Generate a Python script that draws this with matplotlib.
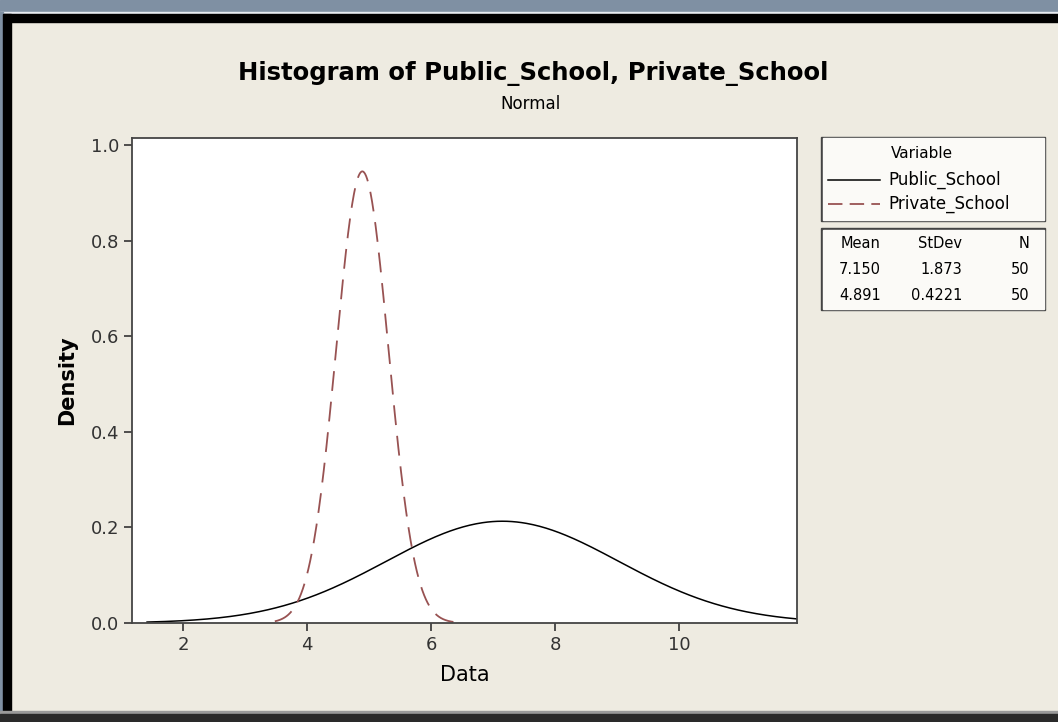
import numpy as np
import matplotlib.pyplot as plt
from matplotlib.patches import Rectangle

# normal fits shown in the chart
variables = ["Public_School", "Private_School"]
means = [7.150, 4.891]
stdevs = [1.873, 0.4221]
counts = [50, 50]
# x range over which each fitted curve is drawn
x_from = [1.42, 3.48]
x_to = [11.9, 6.39]

xticks = [2, 4, 6, 8, 10]
yticks = [0.0, 0.2, 0.4, 0.6, 0.8, 1.0]

bg = "#EEEBE1"

fig = plt.figure(figsize=(10.58, 7.22), dpi=100)
fig.patch.set_facecolor(bg)

# window frame around the graph
W, H = 1058, 722
def px_rect(x, y, w, h, color):
    fig.patches.append(Rectangle((x / W, 1 - (y + h) / H), w / W, h / H,
                                 transform=fig.transFigure, color=color, zorder=0))

px_rect(0, 0, W, 12, "#7F90A3")
px_rect(0, 12, W, 2, "#E8ECF2")
px_rect(3, 14, W, 8, "#000000")
px_rect(0, 12, 3, H, "#7F90A3")
px_rect(3, 14, 8, H, "#000000")
px_rect(0, 711, W, 2, "#9A9A9A")
px_rect(0, 714, W, 8, "#2A2A2A")

ax = fig.add_axes([132 / W, 1 - 623 / H, (797 - 132) / W, (623 - 138) / H])
ax.set_facecolor("white")

styles = [dict(color="black", lw=1.1, ls="-"),
          dict(color="#985252", lw=1.3, ls=(0, (11, 6)))]

for m, s, a, b, st in zip(means, stdevs, x_from, x_to, styles):
    x = np.linspace(a, b, 400)
    y = np.exp(-0.5 * ((x - m) / s) ** 2) / (s * np.sqrt(2 * np.pi))
    ax.plot(x, y, **st)

ax.set_xlim(1.177, 11.9)
ax.set_ylim(0, 1.015)
ax.set_xticks(xticks)
ax.set_yticks(yticks)
ax.set_yticklabels([f"{v:.1f}" for v in yticks])
ax.tick_params(direction="out", length=6, width=1.2, labelsize=13,
               colors="#333333", labelcolor="#333333", pad=3)
for sp in ax.spines.values():
    sp.set_color("#444444")
    sp.set_linewidth(1.3)

ax.set_xlabel("Data", fontsize=15, labelpad=8)
ax.set_ylabel("Density", fontsize=15, fontweight="bold", labelpad=10)

fig.text(533 / W, 1 - 73 / H, "Histogram of Public_School, Private_School",
         ha="center", va="center", fontsize=17.5, fontweight="bold")
fig.text(530 / W, 1 - 104 / H, "Normal", ha="center", va="center", fontsize=12)

# legend box: variables
lx0, lx1 = 821, 1045
px_rect(lx0, 137, lx1 - lx0, 84, "#444444")
px_rect(lx0 + 1.5, 138.5, lx1 - lx0 - 3, 81, "#FBFAF7")
fig.text(922 / W, 1 - 154 / H, "Variable", ha="center", va="center", fontsize=11)
leg_ls = ["-", (0, (8, 4))]
for i, (name, st) in enumerate(zip(variables, styles)):
    yy = 1 - (180 + 24 * i) / H
    fig.add_artist(plt.Line2D([828 / W, 880 / W], [yy, yy], transform=fig.transFigure,
                              color=st["color"], lw=st["lw"], ls=leg_ls[i]))
    fig.text(888 / W, yy, name, ha="left", va="center", fontsize=12)

# legend box: statistics
px_rect(lx0, 228, lx1 - lx0, 82, "#444444")
px_rect(lx0 + 1.5, 229.5, lx1 - lx0 - 3, 79, "#FBFAF7")
cols = [(881, "Mean"), (962, "StDev"), (1029, "N")]
for cx, head in cols:
    fig.text(cx / W, 1 - 244 / H, head, ha="right", va="center", fontsize=10.5)
for i in range(len(variables)):
    yy = 1 - (270 + 25 * i) / H
    vals = [f"{means[i]:.3f}", f"{stdevs[i]:.4g}", f"{counts[i]}"]
    for (cx, _), v in zip(cols, vals):
        fig.text(cx / W, yy, v, ha="right", va="center", fontsize=10.5)

fig.savefig("out.png", dpi=100, facecolor=fig.get_facecolor())
